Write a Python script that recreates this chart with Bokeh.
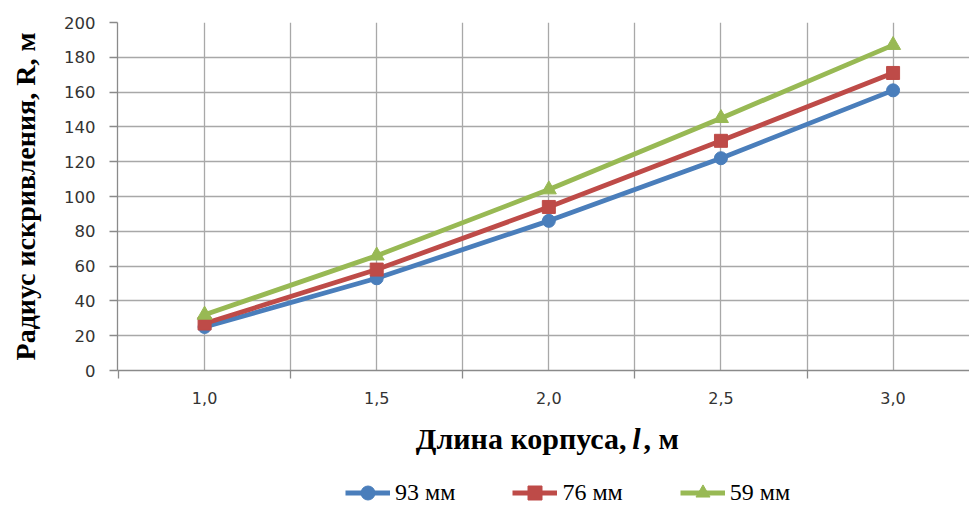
from bokeh.plotting import figure
from bokeh.layouts import column
from bokeh.models import FixedTicker, Label, Legend, LegendItem, Range1d
from bokeh.embed import file_html
from bokeh.resources import INLINE

# ---- data ----
x_values = [1.0, 1.5, 2.0, 2.5, 3.0]
x_labels = ["1,0", "1,5", "2,0", "2,5", "3,0"]
series_names = ["93 мм", "76 мм", "59 мм"]
r_93 = [25, 53, 86, 122, 161]
r_76 = [27, 58, 94, 132, 171]
r_59 = [32, 66, 104, 145, 187]
y_ticks = list(range(0, 201, 20))
category_bounds = [0.75, 1.25, 1.75, 2.25, 2.75, 3.25]
grid_x = [1.0, 1.25, 1.5, 1.75, 2.0, 2.25, 2.5, 2.75, 3.0, 3.25]

colors = ["#4a7ebb", "#be4b48", "#98b954"]
markers = ["circle", "square", "triangle"]
marker_sizes = [13, 13, 15]
series = [r_93, r_76, r_59]

GRID = "#a8a8a8"
AXIS = "#8a8a8a"
SERIF = "Liberation Serif"
SANS = "DejaVu Sans"

W = 969
H_MAIN = 415
H_FOOT = 94
FRAME_LEFT = 117

p = figure(width=W, height=H_MAIN, output_backend="svg", toolbar_location=None,
           x_range=Range1d(0.747, 3.222), y_range=Range1d(0, 200),
           min_border_left=FRAME_LEFT, min_border_right=0, min_border_top=22,
           min_border_bottom=H_MAIN - 370, outline_line_color=None)
p.background_fill_color = "white"
p.border_fill_color = "white"

# x axis
p.xaxis.ticker = FixedTicker(ticks=x_values, minor_ticks=category_bounds)
p.xaxis.major_label_overrides = dict(zip(x_values, x_labels))
p.xaxis.major_tick_out = 0
p.xaxis.major_tick_in = 0
p.xaxis.minor_tick_out = 8
p.xaxis.minor_tick_in = 0
p.xaxis.minor_tick_line_color = AXIS
p.xaxis.minor_tick_line_width = 1.3
p.xaxis.axis_line_color = AXIS
p.xaxis.axis_line_width = 1.3
p.xaxis.major_label_text_font = SANS
p.xaxis.major_label_text_font_size = "16px"
p.xaxis.major_label_text_color = "#333333"
p.xaxis.major_label_standoff = 13

# y axis
p.yaxis.ticker = FixedTicker(ticks=y_ticks, minor_ticks=[])
p.yaxis.major_tick_out = 8
p.yaxis.major_tick_in = 0
p.yaxis.major_tick_line_color = AXIS
p.yaxis.major_tick_line_width = 1.3
p.yaxis.axis_line_color = AXIS
p.yaxis.axis_line_width = 1.3
p.yaxis.major_label_text_font = SANS
p.yaxis.major_label_text_font_size = "16.5px"
p.yaxis.major_label_text_color = "#333333"
p.yaxis.major_label_standoff = 14
p.yaxis.axis_label = "Радиус искривления, R, м"
p.yaxis.axis_label_text_font = SERIF
p.yaxis.axis_label_text_font_style = "bold"
p.yaxis.axis_label_text_font_size = "28px"
p.yaxis.axis_label_text_color = "black"
p.yaxis.axis_label_standoff = 20

# grids
p.xgrid.ticker = FixedTicker(ticks=grid_x)
p.ygrid.ticker = FixedTicker(ticks=y_ticks)
for g in (p.xgrid, p.ygrid):
    g.grid_line_color = GRID
    g.grid_line_width = 1.3

# series
for name, vals, c, m, s in zip(series_names, series, colors, markers, marker_sizes):
    p.line(x_values, vals, line_color=c, line_width=4.8)
    p.scatter(x_values, vals, marker=m, size=s, fill_color=c, line_color=c)

# ---- footer: x axis title and legend (frame aligned with main frame) ----
f = figure(width=W, height=H_FOOT, output_backend="svg", toolbar_location=None,
           x_range=Range1d(FRAME_LEFT, W), y_range=Range1d(0, H_FOOT),
           x_axis_type=None, y_axis_type=None,
           min_border_left=FRAME_LEFT, min_border_right=0, min_border_top=0,
           min_border_bottom=0, outline_line_color=None)
f.grid.visible = False
f.background_fill_color = "white"
f.border_fill_color = "white"

ty = H_FOOT - (438 - H_MAIN)
common = dict(text_baseline="middle", text_font=SERIF, text_font_size="30px",
              text_color="black")
f.add_layout(Label(x=626, y=ty, text="Длина корпуса,", text_align="right",
                   text_font_style="bold", **common))
f.add_layout(Label(x=636, y=ty, text="l", text_align="center",
                   text_font_style="bold italic", **common))
f.add_layout(Label(x=643, y=ty, text=", м", text_align="left",
                   text_font_style="bold", **common))

items = []
for name, c, m, s in zip(series_names, colors, markers, marker_sizes):
    # placeholder renderers (outside the visible range) used only for legend glyphs
    ln = f.line([0, 1], [-50, -50], line_color=c, line_width=4.8)
    sc = f.scatter([0], [-50], marker=m, size=s, fill_color=c, line_color=c)
    items.append(LegendItem(label=name, renderers=[ln, sc]))

legend = Legend(items=items, location=(345 - FRAME_LEFT, -1), orientation="horizontal",
                glyph_width=45, glyph_height=35, label_text_font=SERIF,
                label_text_font_size="24px", label_text_color="black",
                spacing=57, padding=0, margin=0, label_standoff=5,
                border_line_color=None, background_fill_alpha=0)
f.add_layout(legend)

layout = column(p, f, spacing=0)
open("out.html", "w").write(file_html(layout, INLINE))
